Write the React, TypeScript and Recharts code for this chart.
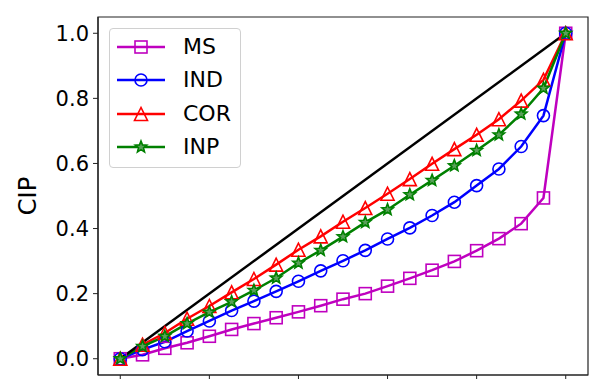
import React from 'react'
import { LineChart, Line, XAxis, YAxis, Label, ReferenceArea } from 'recharts'

const xs = [0, 0.05, 0.1, 0.15, 0.2, 0.25, 0.3, 0.35, 0.4, 0.45, 0.5, 0.55, 0.6, 0.65, 0.7, 0.75, 0.8, 0.85, 0.9, 0.95, 1.0]
const ms = [0, 0.012, 0.032, 0.049, 0.069, 0.09, 0.108, 0.126, 0.144, 0.163, 0.183, 0.2, 0.223, 0.247, 0.272, 0.299, 0.332, 0.369, 0.415, 0.494, 1.0]
const ind = [0, 0.028, 0.052, 0.085, 0.116, 0.148, 0.177, 0.207, 0.238, 0.27, 0.301, 0.333, 0.368, 0.402, 0.44, 0.481, 0.532, 0.583, 0.652, 0.747, 1.0]
const cor = [0, 0.043, 0.079, 0.123, 0.162, 0.204, 0.245, 0.289, 0.335, 0.376, 0.421, 0.463, 0.507, 0.552, 0.599, 0.644, 0.688, 0.736, 0.793, 0.857, 1.0]
const inp = [0, 0.038, 0.069, 0.108, 0.143, 0.175, 0.21, 0.248, 0.294, 0.333, 0.375, 0.419, 0.458, 0.504, 0.548, 0.593, 0.64, 0.688, 0.752, 0.831, 1.0]
const diagonal = [{ x: 0, diag: 0 }, { x: 1, diag: 1 }]
const ticks = [0, 0.2, 0.4, 0.6, 0.8, 1.0]
const domain: [number, number] = [-0.05, 1.05]

const series = [
  { key: 'MS', color: '#bf00bf', marker: 'square' },
  { key: 'IND', color: '#0000ff', marker: 'circle' },
  { key: 'COR', color: '#ff0000', marker: 'triangle' },
  { key: 'INP', color: '#008000', marker: 'star' },
]

const data = xs.map((x, i) => ({ x, MS: ms[i], IND: ind[i], COR: cor[i], INP: inp[i] }))

const FONT = 'DejaVu Sans, sans-serif'

function Marker({ cx, cy, type, color }: { cx: number; cy: number; type: string; color: string }) {
  const common = { fill: 'none', stroke: color, strokeWidth: 1.6 }
  if (type === 'square') return <rect x={cx - 6} y={cy - 6} width={12} height={12} {...common} />
  if (type === 'circle') return <circle cx={cx} cy={cy} r={6} {...common} />
  if (type === 'triangle') {
    const pts = `${cx},${cy - 6.5} ${cx - 6.5},${cy + 6.5} ${cx + 6.5},${cy + 6.5}`
    return <polygon points={pts} {...common} />
  }
  // star
  const pts: string[] = []
  for (let k = 0; k < 10; k++) {
    const r = k % 2 === 0 ? 6 : 2.6
    const a = -Math.PI / 2 + (k * Math.PI) / 5
    pts.push(`${cx + r * Math.cos(a)},${cy + r * Math.sin(a)}`)
  }
  return <polygon points={pts.join(' ')} {...common} fill="#5aa05a" />
}

function LegendBox() {
  return (
    <div
      style={{
        position: 'absolute',
        left: 109,
        top: 28,
        width: 132,
        height: 140,
        border: '1px solid #d0d0d0',
        borderRadius: 4,
        background: 'rgba(255,255,255,0.8)',
        boxSizing: 'border-box',
        fontFamily: FONT,
      }}
    >
      {series.map((s, i) => (
        <div key={s.key} style={{ position: 'absolute', left: 0, top: 1 + i * 33.4, height: 34, display: 'flex', alignItems: 'center' }}>
          <svg width={70} height={34}>
            <line x1={7} x2={55} y1={17} y2={17} stroke={s.color} strokeWidth={2.5} />
            <Marker cx={31} cy={17} type={s.marker} color={s.color} />
          </svg>
          <span style={{ fontSize: 22, color: '#000', lineHeight: '34px', marginLeft: 3 }}>{s.key}</span>
        </div>
      ))}
    </div>
  )
}

export default function App() {
  return (
    <div style={{ position: 'absolute', left: 0, top: 0, width: 598, height: 379, background: '#fff' }}>
      <LineChart width={598} height={379} data={data} margin={{ top: 17, right: 10, bottom: 0, left: 0 }} style={{ fontFamily: FONT }}>
        <XAxis
          dataKey="x"
          type="number"
          domain={domain}
          ticks={ticks}
          height={4}
          tickSize={5}
          tickFormatter={() => ''}
          axisLine={{ stroke: '#222', strokeWidth: 1.2 }}
          tickLine={{ stroke: '#222' }}
        />
        <YAxis
          type="number"
          domain={domain}
          ticks={ticks}
          width={98}
          tickSize={5}
          tickMargin={4}
          tickFormatter={(v: number) => v.toFixed(1)}
          tick={{ fill: '#000', fontSize: 21, fontFamily: FONT }}
          axisLine={{ stroke: '#222', strokeWidth: 1.2 }}
          tickLine={{ stroke: '#222' }}
        >
          <Label
            content={({ viewBox }: any) => (
              <text
                x={viewBox.x + 28}
                y={viewBox.y + viewBox.height / 2}
                transform={`rotate(-90, ${viewBox.x + 28}, ${viewBox.y + viewBox.height / 2})`}
                textAnchor="middle"
                dominantBaseline="central"
                fontSize={24}
                fontFamily={FONT}
                fill="#000"
              >
                CIP
              </text>
            )}
          />
        </YAxis>
        <ReferenceArea x1={domain[0]} x2={domain[1]} y1={domain[0]} y2={domain[1]} fill="none" stroke="#222" strokeWidth={1.2} ifOverflow="visible" />
        {series.map((s) => (
          <Line
            key={s.key}
            dataKey={s.key}
            stroke={s.color}
            strokeWidth={2.5}
            isAnimationActive={false}
            dot={(p: any) => <Marker key={`${s.key}-${p.index}`} cx={p.cx} cy={p.cy} type={s.marker} color={s.color} />}
            activeDot={false}
          />
        ))}
        <Line data={diagonal} dataKey="diag" stroke="#000" strokeWidth={2.5} dot={false} activeDot={false} isAnimationActive={false} />
      </LineChart>
      <LegendBox />
    </div>
  )
}
